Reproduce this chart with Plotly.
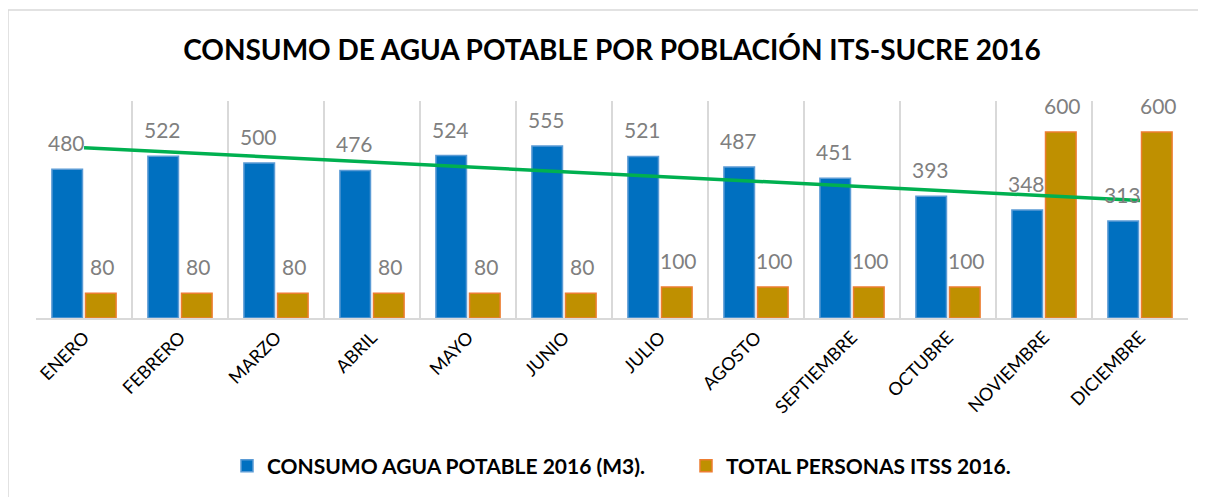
import plotly.graph_objects as go
import numpy as np

meses = ["ENERO", "FEBRERO", "MARZO", "ABRIL", "MAYO", "JUNIO", "JULIO",
         "AGOSTO", "SEPTIEMBRE", "OCTUBRE", "NOVIEMBRE", "DICIEMBRE"]
consumo = [480, 522, 500, 476, 524, 555, 521, 487, 451, 393, 348, 313]
personas = [80, 80, 80, 80, 80, 80, 100, 100, 100, 100, 600, 600]

# linear trendline of the consumption series (as the spreadsheet does)
idx = np.arange(1, len(consumo) + 1)
slope, intercept = np.polyfit(idx, consumo, 1)
tendencia = slope * idx + intercept

FONT = "Lato"
OFF = 8  # page body margin
W, H = 1206 - OFF, 497 - OFF
L, R, T, B = 36 - OFF, 18, 101 - OFF, 179

fig = go.Figure()
fig.add_trace(go.Bar(
    x=meses, y=consumo, name="CONSUMO AGUA POTABLE 2016 (M3).",
    marker=dict(color="#0070C0", line=dict(color="#5B9BD5", width=1.5)),
))
fig.add_trace(go.Bar(
    x=meses, y=personas, name="TOTAL PERSONAS ITSS 2016.",
    marker=dict(color="#BF9000", line=dict(color="#ED7D31", width=1.5)),
))
fig.add_trace(go.Scatter(
    x=meses, y=tendencia, mode="lines", showlegend=False,
    line=dict(color="#00B050", width=3.5), hoverinfo="skip",
))

annotations = []
for m, v in zip(meses, consumo):
    annotations.append(dict(x=m, y=v, xref="x", yref="y", text=str(v),
                            showarrow=False, xshift=-18, yshift=12,
                            yanchor="bottom",
                            font=dict(family=FONT, size=21, color="#7F7F7F")))
for m, v in zip(meses, personas):
    annotations.append(dict(x=m, y=v, xref="x", yref="y", text=str(v),
                            showarrow=False, xshift=18, yshift=12,
                            yanchor="bottom",
                            font=dict(family=FONT, size=21, color="#7F7F7F")))

pw = W - L - R
ph = H - T - B
shapes = [dict(type="rect", xref="paper", yref="paper",
               x0=(0 - L) / pw, x1=(W + 5 - L) / pw,
               y0=(H - B - (H + 5)) / ph, y1=(H - B - 2) / ph,
               line=dict(color="#D9D9D9", width=1.5), layer="below")]

fig.update_layout(
    width=W, height=H,
    margin=dict(l=L, r=R, t=T, b=B, autoexpand=False),
    paper_bgcolor="white", plot_bgcolor="white",
    barmode="group", bargap=0.30, bargroupgap=0.09,
    title=dict(text="CONSUMO DE AGUA POTABLE POR POBLACIÓN ITS-SUCRE 2016",
               x=0.5, xref="paper", xanchor="center",
               y=1 - (50 - OFF) / H, yref="container", yanchor="middle",
               font=dict(family=FONT, size=28, color="black", weight="bold")),
    xaxis=dict(tickson="boundaries", showgrid=True, gridcolor="#D9D9D9",
               gridwidth=1.5, showline=True, linecolor="#D9D9D9", linewidth=2,
               ticks="", tickangle=-45,
               tickfont=dict(family=FONT, size=18, color="black"),
               fixedrange=True),
    yaxis=dict(range=[0, 700], visible=False, showgrid=False, fixedrange=True),
    legend=dict(orientation="h", x=0.5 + 74 / pw, xanchor="center",
                y=(H - B - (466 - OFF)) / ph, yanchor="middle",
                font=dict(family=FONT, size=21, color="black", weight="bold"),
                itemwidth=30, tracegroupgap=0, entrywidth=414,
                entrywidthmode="pixels"),
    annotations=annotations,
    shapes=shapes,
    showlegend=True,
)

fig.write_html("out.html")
